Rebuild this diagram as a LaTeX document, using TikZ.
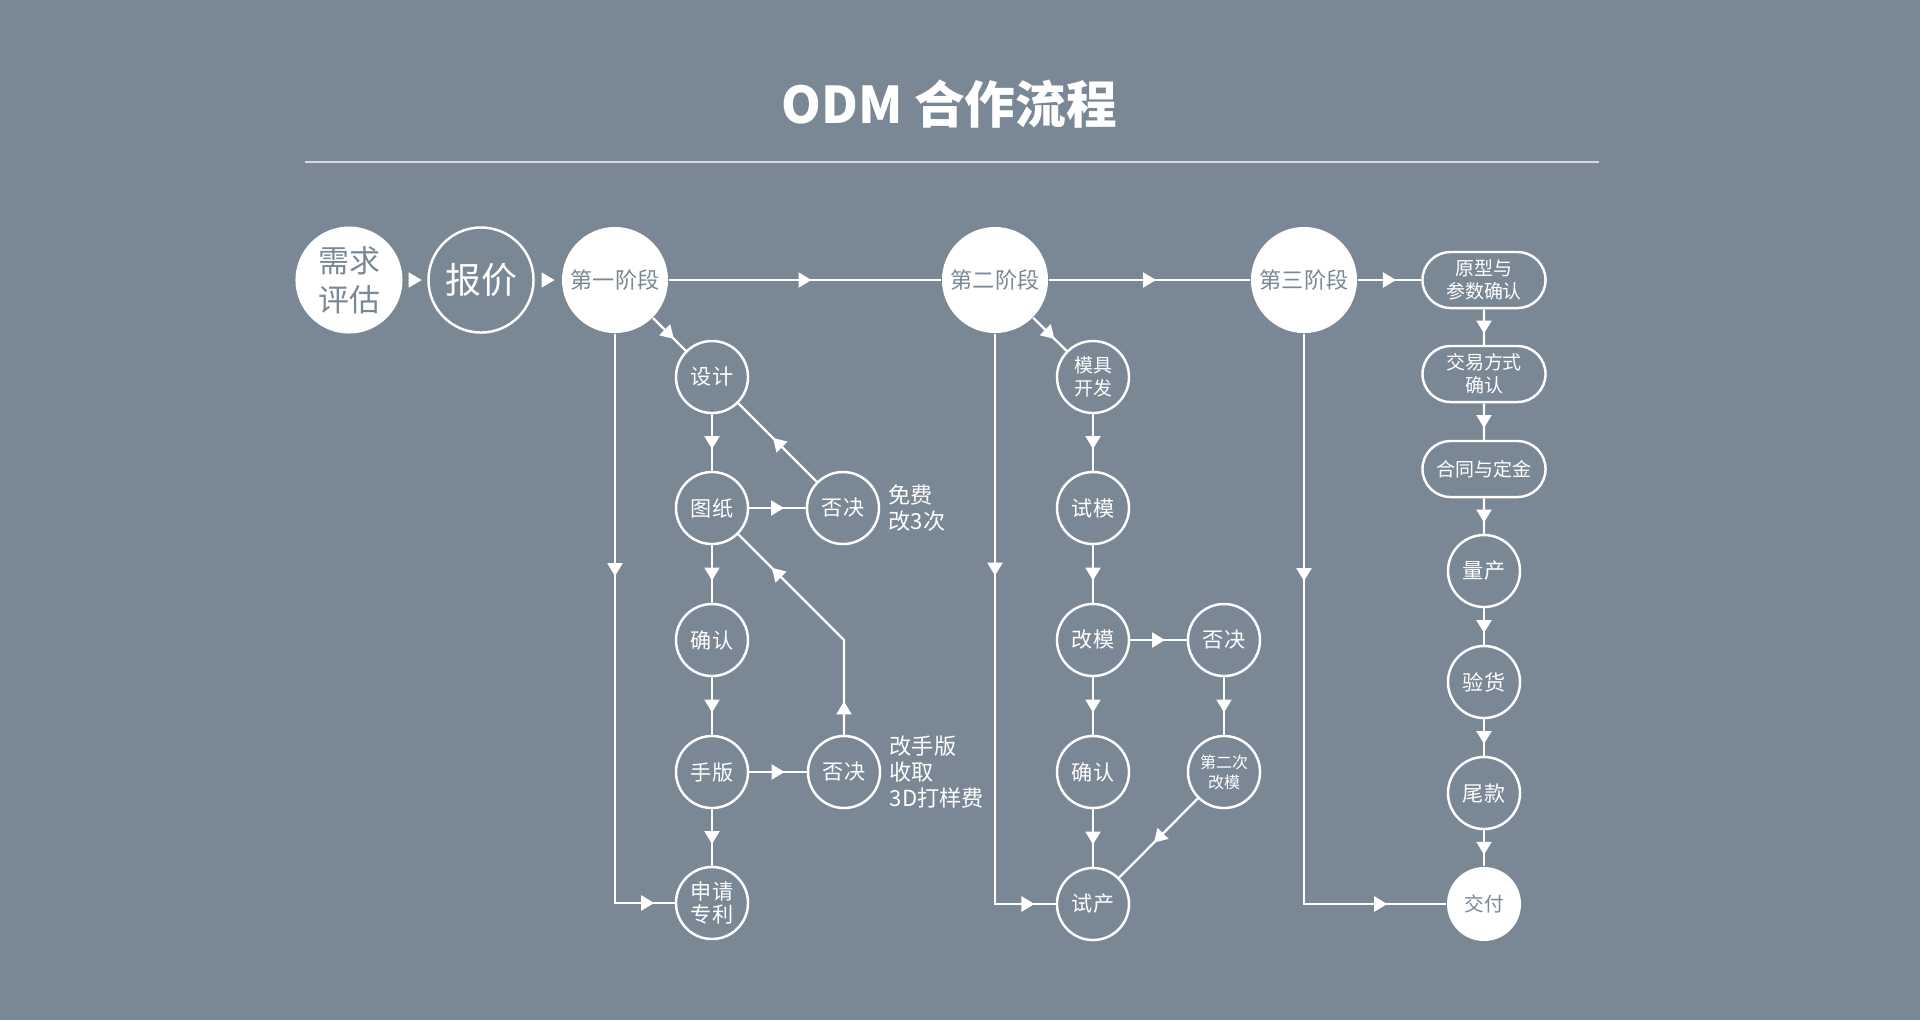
\documentclass[tikz,border=0pt]{standalone}
\usepackage{fontspec}
\setmainfont{Noto Sans CJK SC}
\usetikzlibrary{arrows.meta, decorations.markings, shapes.misc}

\definecolor{bgcol}{RGB}{122,136,150}
\definecolor{rulecol}{RGB}{214,218,222}

\tikzset{
  flowtip/.tip={Triangle[width=0.15cm,length=0.13cm]},
  arrowat/.style={postaction={decorate,decoration={markings,
      mark=at position #1 with {\pgftransformxshift{0.065cm}\arrow{flowtip}}}}},
  arrowat/.default=0.5,
  flowline/.style={draw=white, line width=0.65pt},
  flow/.style={flowline, arrowat},
  stage/.style={circle, fill=white, text=bgcol, minimum size=1.06cm, inner sep=0pt,
      align=center, font=\fontsize{6.3}{7.5}\selectfont},
  stepbox/.style={circle, draw=white, line width=0.7pt, text=white, minimum size=0.72cm,
      inner sep=0pt, align=center, font=\fontsize{6}{6.5}\selectfont},
  pill/.style={rounded rectangle, draw=white, line width=0.7pt, text=white,
      minimum width=1.23cm, minimum height=0.56cm, inner sep=0pt, align=center,
      font=\fontsize{5.4}{6.5}\selectfont},
  note/.style={text=white, anchor=west, align=left, inner sep=0pt,
      font=\fontsize{6.3}{7.6}\selectfont},
}

\begin{document}
\begin{tikzpicture}[x=0.01cm, y=-0.01cm]
  \fill[bgcol] (0,0) rectangle (1920,1020);

  % title
  \node[text=white, font=\bfseries\fontsize{14.4}{17}\selectfont] (title) at (949,104) {ODM 合作流程};
  \draw[rulecol, line width=0.55pt] (305,162) -- (1599,162);

  % top row
  \node[stage, minimum size=1.07cm, font=\fontsize{8.8}{11.1}\selectfont] (need) at (349,280) {需求\\评估};
  \node[stepbox, minimum size=1.05cm, font=\fontsize{10.2}{12}\selectfont] (quote) at (481,280) {报价};
  \node[stage] (s1) at (615,280) {第一阶段};
  \node[stage] (s2) at (995,280) {第二阶段};
  \node[stage] (s3) at (1304,280) {第三阶段};

  % stage one
  \node[stepbox] (design) at (712,377) {设计};
  \node[stepbox] (drawing) at (712,508) {图纸};
  \node[stepbox] (rej1) at (843,508) {否决};
  \node[stepbox] (confirm) at (712,640) {确认};
  \node[stepbox] (hand) at (712,772) {手版};
  \node[stepbox] (rej2) at (844,772) {否决};
  \node[stepbox] (patent) at (712,903) {申请\\专利};
  \node[note] (free) at (888,508) {免费\\改3次};
  \node[note, font=\fontsize{6.3}{7.5}\selectfont] (fee) at (889,772) {改手版\\收取\\3D打样费};
  \coordinate (bend) at (844,640);

  % stage two
  \node[stepbox, font=\fontsize{5.4}{6.5}\selectfont] (mold) at (1093,377) {模具\\开发};
  \node[stepbox] (trymold) at (1093,508) {试模};
  \node[stepbox] (modify) at (1093,640) {改模};
  \node[stepbox] (rej3) at (1224,640) {否决};
  \node[stepbox] (confirm2) at (1093,772) {确认};
  \node[stepbox, font=\fontsize{4.55}{5.7}\selectfont] (remold) at (1224,772) {第二次\\改模};
  \node[stepbox] (trial) at (1093,904) {试产};

  % stage three
  \node[pill] (proto) at (1484,280) {原型与\\参数确认};
  \node[pill] (trade) at (1484,374) {交易方式\\确认};
  \node[pill] (contract) at (1484,469) {合同与定金};
  \node[stepbox] (mass) at (1484,571) {量产};
  \node[stepbox] (inspect) at (1484,682) {验货};
  \node[stepbox] (balance) at (1484,793) {尾款};
  \node[stage, minimum size=0.74cm, font=\fontsize{5.6}{6.5}\selectfont] (deliver) at (1484,904) {交付};

  % connectors
  \path[white, arrowat] (need) -- (quote);
  \path[white, arrowat] (quote) -- (s1);
  \draw[flow] (s1) -- (s2);
  \draw[flow] (s2) -- (s3);
  \draw[flow] (s3) -- (proto);

  \draw[flow] (s1) -- (design);
  \draw[flow] (design) -- (drawing);
  \draw[flow] (drawing) -- (rej1);
  \draw[flow] (rej1) -- (design);
  \draw[flow] (drawing) -- (confirm);
  \draw[flow] (confirm) -- (hand);
  \draw[flow] (hand) -- (rej2);
  \draw[flow] (hand) -- (patent);
  \draw[flowline, arrowat=0.11, arrowat=0.78] (rej2) -- (bend) -- (drawing);
  \draw[flowline, arrowat=0.375, arrowat=0.957] (s1) |- (patent);

  \draw[flow] (s2) -- (mold);
  \draw[flow] (mold) -- (trymold);
  \draw[flow] (trymold) -- (modify);
  \draw[flow] (modify) -- (rej3);
  \draw[flow] (rej3) -- (remold);
  \draw[flow] (modify) -- (confirm2);
  \draw[flow] (confirm2) -- (trial);
  \draw[flow] (remold) -- (trial);
  \draw[flowline, arrowat=0.373, arrowat=0.956] (s2) |- (trial);

  \draw[flow] (proto) -- (trade);
  \draw[flow] (trade) -- (contract);
  \draw[flow] (contract) -- (mass);
  \draw[flow] (mass) -- (inspect);
  \draw[flow] (inspect) -- (balance);
  \draw[flow] (balance) -- (deliver);
  \draw[flowline, arrowat=0.338, arrowat=0.908] (s3) |- (deliver);
\end{tikzpicture}
\end{document}
